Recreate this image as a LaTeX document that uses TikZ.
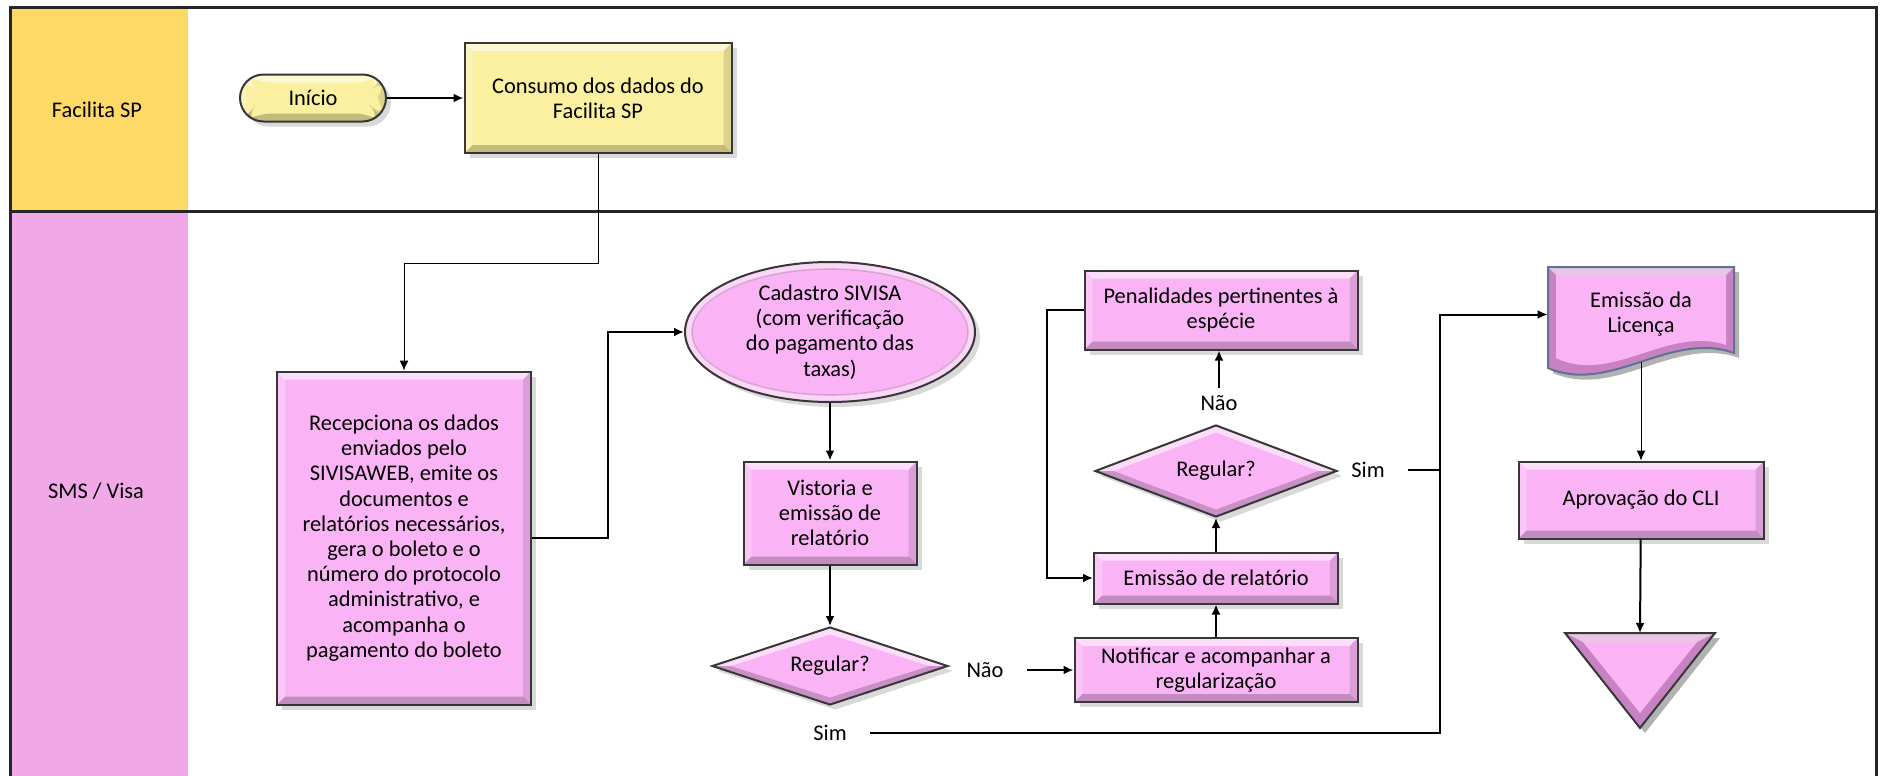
\documentclass[tikz,border=0pt]{standalone}
\usepackage{fontspec}
\setmainfont{Carlito}
\usetikzlibrary{shapes.geometric,shadows,calc,arrows.meta}

\definecolor{laneyellow}{RGB}{255,217,102}
\definecolor{lanepink}{RGB}{241,168,231}
\definecolor{boxpink}{RGB}{250,180,245}
\definecolor{boxpinkdk}{RGB}{200,130,196}
\definecolor{boxyellow}{RGB}{250,240,160}
\definecolor{edge}{RGB}{55,55,55}
\definecolor{docedge}{RGB}{95,115,145}

\tikzset{
  every node/.style={font=\fontsize{11.2}{12.6}\selectfont},
  lane/.style={draw=black!85,line width=1.5pt},
  flow/.style={->,line width=1pt},
  thin/.style={->,line width=.5pt},
  shade3d/.style={drop shadow={shadow xshift=2.5pt,shadow yshift=-2.5pt,opacity=.3}},
  bevel/.style={path picture={
      \coordinate (pa) at (path picture bounding box.north west);
      \coordinate (pb) at (path picture bounding box.south east);
      \fill[white,opacity=.55] (pa) -- (pa -| pb) -- ($(pa -| pb)+(-4pt,-4pt)$) -- ($(pa)+(4pt,-4pt)$) -- cycle;
      \fill[white,opacity=.25] (pa) -- (pb -| pa) -- ($(pb -| pa)+(4pt,4pt)$) -- ($(pa)+(4pt,-4pt)$) -- cycle;
      \fill[black,opacity=.12] (pb) -- (pa -| pb) -- ($(pa -| pb)+(-4pt,-4pt)$) -- ($(pb)+(-4pt,4pt)$) -- cycle;
      \fill[black,opacity=.22] (pb) -- (pb -| pa) -- ($(pb -| pa)+(4pt,4pt)$) -- ($(pb)+(-4pt,4pt)$) -- cycle;
  }},
  box/.style={rectangle,draw=edge,line width=1pt,fill=boxpink,align=center,inner sep=0pt,shade3d,bevel},
  term/.style={box,rounded corners=11.75pt,fill=boxyellow,minimum width=73pt,minimum height=23.5pt},
  decision/.style={diamond,aspect=3,draw=edge,line width=1pt,fill=boxpink,inner sep=0pt,shade3d,path picture={
      \coordinate (dw) at (path picture bounding box.west);
      \coordinate (dn) at (path picture bounding box.north);
      \coordinate (de) at (path picture bounding box.east);
      \coordinate (ds) at (path picture bounding box.south);
      \fill[white,opacity=.55] (dw) -- (dn) -- (de) -- ($(de)+(-9pt,0)$) -- ($(dn)+(0,-3.5pt)$) -- ($(dw)+(9pt,0)$) -- cycle;
      \fill[black,opacity=.2] (dw) -- (ds) -- (de) -- ($(de)+(-9pt,0)$) -- ($(ds)+(0,3.5pt)$) -- ($(dw)+(9pt,0)$) -- cycle;
  }},
  oval/.style={ellipse,draw=edge,line width=1pt,fill=boxpink,align=center,inner sep=0pt,shade3d,path picture={
      \draw[white,opacity=.45,line width=7pt] (path picture bounding box.center) ellipse [x radius=72.5pt,y radius=35pt];
      \draw[black,opacity=.15,line width=.8pt] (path picture bounding box.center) ellipse [x radius=69pt,y radius=31.5pt];
  }},
}

\begin{document}
\begin{tikzpicture}[x=0.5pt,y=-0.5pt,>={Latex[length=5pt,width=4.5pt]}]
\useasboundingbox (0,0) rectangle (1881,776);

% raias
\fill[laneyellow] (10,7) rectangle (188,211);
\fill[lanepink] (10,211) rectangle (188,776);
\draw[lane] (10,776) -- (10,7) -- (1876,7) -- (1876,776);
\draw[lane] (10,211) -- (1876,211);
\node (lane1) at (97,110) {Facilita SP};
\node (lane2) at (96,491) {SMS / Visa};

% Facilita SP
\node[term] (inicio) at (313,98) {Início};
\node[box,fill=boxyellow,minimum width=133.5pt,minimum height=55pt] (consumo) at (598,98) {Consumo dos dados do\\Facilita SP};

% SMS / Visa
\node[box,minimum width=127pt,minimum height=166.5pt] (recep) at (404,538) {Recepciona os dados\\enviados pelo\\SIVISAWEB, emite os\\documentos e\\relatórios necessários,\\gera o boleto e o\\número do protocolo\\administrativo, e\\acompanha o\\pagamento do boleto};
\node[oval,minimum width=145pt,minimum height=70pt] (cadastro) at (830,332) {Cadastro SIVISA\\(com verificação\\do pagamento das\\taxas)};
\node[box,minimum width=86.5pt,minimum height=51.5pt] (vistoria) at (830,513) {Vistoria e\\emissão de\\relatório};
\node[decision,minimum width=118pt,minimum height=39pt] (reg1) at (830,666) {Regular?};
\node (nao1) at (985,670) {Não};
\node (sim1) at (830,733) {Sim};

\node[box,minimum width=141.5pt,minimum height=32pt] (notif) at (1216,670) {Notificar e acompanhar a\\regularização};
\node[box,minimum width=122pt,minimum height=25.5pt] (emrel) at (1216,578) {Emissão de relatório};
\node[decision,minimum width=121pt,minimum height=46pt] (reg2) at (1216,471) {Regular?};
\node (nao2) at (1219,403) {Não};
\node (sim2) at (1368,470) {Sim};
\node[box,minimum width=136.5pt,minimum height=39.5pt] (penal) at (1221,310) {Penalidades pertinentes à\\espécie};
\coordinate (junc) at (1440,470);

% documento
\fill[black,opacity=.3] (1553,272) -- (1739,272) -- (1739,358) .. controls (1675,335) and (1615,400) .. (1553,373) -- cycle;
\fill[boxpinkdk] (1548,267) -- (1734,267) -- (1734,353) .. controls (1670,330) and (1610,395) .. (1548,368) -- cycle;
\fill[boxpink] (1556,275) -- (1726,275) -- (1726,345) .. controls (1668,325) and (1612,385) .. (1556,358) -- cycle;
\fill[white,opacity=.55] (1548,267) -- (1734,267) -- (1726,275) -- (1556,275) -- cycle;
\draw[docedge,line width=1pt] (1548,267) -- (1734,267) -- (1734,353) .. controls (1670,330) and (1610,395) .. (1548,368) -- cycle;
\node[align=center,inner sep=0pt,minimum width=93pt,minimum height=47.5pt] (doc) at (1641,314.5) {Emissão da\\Licença};

\node[box,minimum width=122.5pt,minimum height=38.5pt] (aprov) at (1641,500) {Aprovação do CLI};

% fim
\fill[black,opacity=.3] (1570,638) -- (1720,638) -- (1645,733) -- cycle;
\fill[boxpinkdk] (1565,633) -- (1715,633) -- (1640,728) -- cycle;
\fill[boxpink] (1583,642) -- (1697,642) -- (1640,713) -- cycle;
\fill[white,opacity=.55] (1565,633) -- (1715,633) -- (1697,642) -- (1583,642) -- cycle;
\draw[edge,line width=1pt] (1565,633) -- (1715,633) -- (1640,728) -- cycle;
\coordinate (fim) at (1640,633);

% ligacoes
\draw[flow] (inicio.east) -- (consumo.west);
\draw[thin] (consumo.south) -- ++(0,109) -| (recep.north);
\draw[flow] (recep.east) -- ++(76,0) |- (cadastro.west);
\draw[flow] (cadastro) -- (vistoria);
\draw[flow] (vistoria) -- (reg1);
\draw[flow,shorten <=8pt] (nao1.east) -- (nao1.east -| notif.west);
\draw[flow] (notif) -- (emrel);
\draw[flow] (emrel) -- (reg2);
\draw[flow] (nao2) -- (nao2 |- penal.south);
\draw[flow] (penal.west) -- ++(-37,0) |- (emrel.west);
\draw[line width=1pt] ([xshift=8pt]sim2.east) -- (junc);
\draw[flow] ([xshift=8pt]sim1.east) -| (junc) |- (doc.west);
\draw[thin] (doc.south) -- (aprov);
\draw[flow] (aprov) -- (fim);
\end{tikzpicture}
\end{document}
